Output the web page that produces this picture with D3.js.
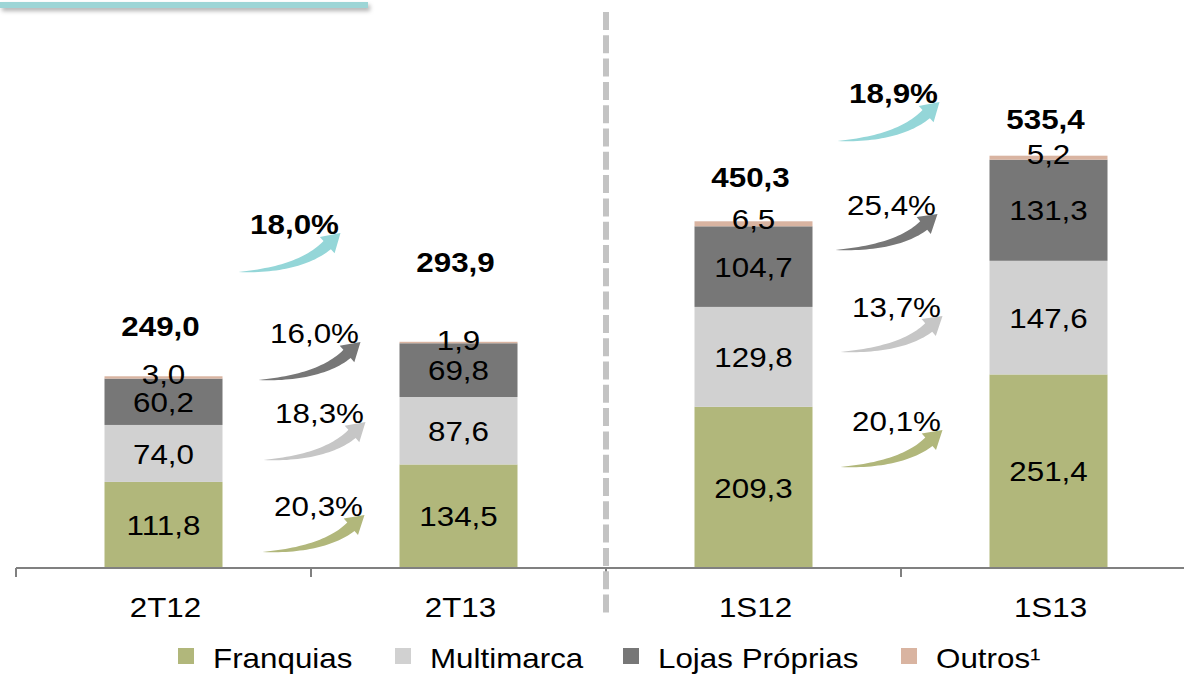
<!DOCTYPE html>
<html>
<head>
<meta charset="utf-8">
<script src="https://cdn.jsdelivr.net/npm/d3@7"></script>
<style>
  body { margin: 0; background: #fff; }
  svg { display: block; font-family: "Liberation Sans", Arial, sans-serif; }
</style>
</head>
<body>
<div id="chart"></div>
<script>
// values (R$ milhões)
const categories = ["2T12", "2T13", "1S12", "1S13"];
const seriesNames = ["Franquias", "Multimarca", "Lojas Próprias", "Outros¹"];
const franquias = [111.8, 134.5, 209.3, 251.4];
const multimarca = [74.0, 87.6, 129.8, 147.6];
const lojasProprias = [60.2, 69.8, 104.7, 131.3];
const outros = [3.0, 1.9, 6.5, 5.2];
const totals = [249.0, 293.9, 450.3, 535.4];

// growth between the two periods of each pair
const pairs = [["2T12", "2T13"], ["1S12", "1S13"]];
const growFranquias = [20.3, 20.1];
const growMultimarca = [18.3, 13.7];
const growLojas = [16.0, 25.4];
const growTotal = [18.0, 18.9];

const colors = ["#b1b77b", "#d1d1d1", "#777777", "#d9b4a1"];
const arrowColors = ["#b1b77b", "#c6c6c6", "#777777", "#94d6d8"];
const teal = "#9dd5d6";

// annotation layout (px): for each pair, each arrow [tail dx from bar edge, tail y, tip y]
const arrowLayout = [
    [[40, 552, 515], [41, 460, 422], [36, 380, 342], [16, 272, 233]],
    [[28, 467, 430], [28, 352, 316], [23, 250, 214], [25, 141, 102]]
];
const totalLift = [40, 70, 34, 27];

const W = 1184, H = 675;
const SX = 1.12; // the slide was stretched sideways
const FS = 28;

const locale = d3.formatLocale({ decimal: ",", thousands: ".", grouping: [3], currency: ["R$", ""] });
const fmt = locale.format(".1f");

const svg = d3.select("#chart").append("svg")
    .attr("width", W)
    .attr("height", H);

const defs = svg.append("defs");
const shadow = defs.append("filter").attr("id", "shadow")
    .attr("x", "-5%").attr("y", "-100%").attr("width", "110%").attr("height", "400%");
shadow.append("feDropShadow")
    .attr("dx", 2).attr("dy", 3).attr("stdDeviation", 2)
    .attr("flood-color", "#000").attr("flood-opacity", 0.3);

// title bar accent
svg.append("rect")
    .attr("x", 0).attr("y", 2)
    .attr("width", 368).attr("height", 6)
    .attr("fill", teal)
    .attr("filter", "url(#shadow)");

const axisY = 568;

let x = d3.scaleBand()
    .domain(categories)
    .range([16, 16 + 295 * categories.length])
    .paddingInner(0.6)
    .paddingOuter(0.3);

let y = d3.scaleLinear()
    .domain([0, 536.4])
    .range([axisY, 155]);

function label(g, px, py, text, opts) {
    opts = opts || {};
    return g.append("text")
        .attr("transform", "translate(" + px + "," + py + ") scale(" + SX + ",1)")
        .attr("text-anchor", opts.anchor || "middle")
        .attr("font-size", opts.size || FS)
        .attr("font-weight", opts.weight || "normal")
        .attr("fill", "#000")
        .text(text);
}

// stacked bars
const table = categories.map(function (c, i) {
    return { cat: c, Franquias: franquias[i], Multimarca: multimarca[i], "Lojas Próprias": lojasProprias[i], "Outros¹": outros[i] };
});
const stack = d3.stack().keys(seriesNames)(table);

const barG = svg.append("g");
stack.forEach(function (layer, si) {
    barG.append("g")
        .selectAll("rect")
        .data(layer)
        .join("rect")
        .attr("x", function (d) { return x(d.data.cat); })
        .attr("width", x.bandwidth())
        .attr("y", function (d) { return y(d[1]); })
        .attr("height", function (d) { return y(d[0]) - y(d[1]); })
        .attr("fill", colors[si]);
});

// segment labels
const labG = svg.append("g");
stack.forEach(function (layer, si) {
    layer.forEach(function (d) {
        const cx = x(d.data.cat) + x.bandwidth() / 2;
        let cy;
        if (si === 3) {
            cy = y(d[1]) - 2;
        } else {
            cy = (y(d[0]) + y(d[1])) / 2;
        }
        label(labG, cx, cy + FS * 0.36, fmt(d[1] - d[0]));
    });
});

// totals
totals.forEach(function (t, i) {
    const cx = x(categories[i]) + x.bandwidth() / 2;
    label(labG, cx - 3, y(t) - totalLift[i], fmt(t), { weight: "bold" });
});

// axis
const axisG = svg.append("g");
axisG.append("line")
    .attr("x1", 16).attr("x2", W)
    .attr("y1", axisY).attr("y2", axisY)
    .attr("stroke", "#808080").attr("stroke-width", 2);
const bounds = categories.map(function (c) { return x(c) - x.step() * x.paddingOuter(); });
axisG.selectAll("line.tick")
    .data(bounds)
    .join("line")
    .attr("class", "tick")
    .attr("x1", function (d) { return d; }).attr("x2", function (d) { return d; })
    .attr("y1", axisY).attr("y2", axisY + 9)
    .attr("stroke", "#808080").attr("stroke-width", 2);
categories.forEach(function (c) {
    label(axisG, x(c) + x.bandwidth() / 2 + 2, 617, c);
});

// dashed divider between quarter and semester
svg.append("line")
    .attr("x1", bounds[2]).attr("x2", bounds[2])
    .attr("y1", 12).attr("y2", 613)
    .attr("stroke", "#c3c3c3")
    .attr("stroke-width", 6)
    .attr("stroke-dasharray", "18,5.3");

// growth swooshes
function swoosh(T, P) {
    const dx = P[0] - T[0], dy = P[1] - T[1];
    const headLen = 18, headHalf = 11, bodyMax = 11;
    const C = [T[0] + 0.6 * dx, T[1] + 0.05 * dy];
    let ux = P[0] - C[0], uy = P[1] - C[1];
    const ul = Math.hypot(ux, uy);
    ux /= ul; uy /= ul;
    const B = [P[0] - headLen * ux, P[1] - headLen * uy];
    const up = [], down = [];
    const n = 30;
    for (let k = 0; k <= n; k++) {
        const t = k / n;
        const qx = (1 - t) * (1 - t) * T[0] + 2 * (1 - t) * t * C[0] + t * t * B[0];
        const qy = (1 - t) * (1 - t) * T[1] + 2 * (1 - t) * t * C[1] + t * t * B[1];
        const tx = 2 * (1 - t) * (C[0] - T[0]) + 2 * t * (B[0] - C[0]);
        const ty = 2 * (1 - t) * (C[1] - T[1]) + 2 * t * (B[1] - C[1]);
        const tl = Math.hypot(tx, ty);
        const nx = -ty / tl, ny = tx / tl;
        const w = bodyMax * Math.pow(t, 0.8) / 2;
        up.push([qx - nx * w, qy - ny * w]);
        down.push([qx + nx * w, qy + ny * w]);
    }
    const nx = -uy, ny = ux;
    const pts = up.concat([
        [B[0] - nx * headHalf, B[1] - ny * headHalf],
        P,
        [B[0] + nx * headHalf, B[1] + ny * headHalf]
    ]).concat(down.reverse());
    return "M" + pts.map(function (p) { return p[0].toFixed(1) + "," + p[1].toFixed(1); }).join("L") + "Z";
}

const growth = [growFranquias, growMultimarca, growLojas, growTotal];
const arrG = svg.append("g");
pairs.forEach(function (pair, pi) {
    const edge = x(pair[0]) + x.bandwidth();
    growth.forEach(function (g, si) {
        const lay = arrowLayout[pi][si];
        const T = [edge + lay[0], lay[1]];
        const P = [T[0] + 102, lay[2]];
        arrG.append("path")
            .attr("d", swoosh(T, P))
            .attr("fill", arrowColors[si]);
        label(arrG, P[0] - 46, P[1] + 1, fmt(g[pi]) + "%", { weight: si === 3 ? "bold" : "normal" });
    });
});

// legend
const legendX = [178, 395, 623, 901];
const legG = svg.append("g");
seriesNames.forEach(function (s, i) {
    legG.append("rect")
        .attr("x", legendX[i]).attr("y", 648)
        .attr("width", 16).attr("height", 16)
        .attr("fill", colors[i]);
    label(legG, legendX[i] + 35, 668, s, { anchor: "start" });
});
</script>
</body>
</html>
